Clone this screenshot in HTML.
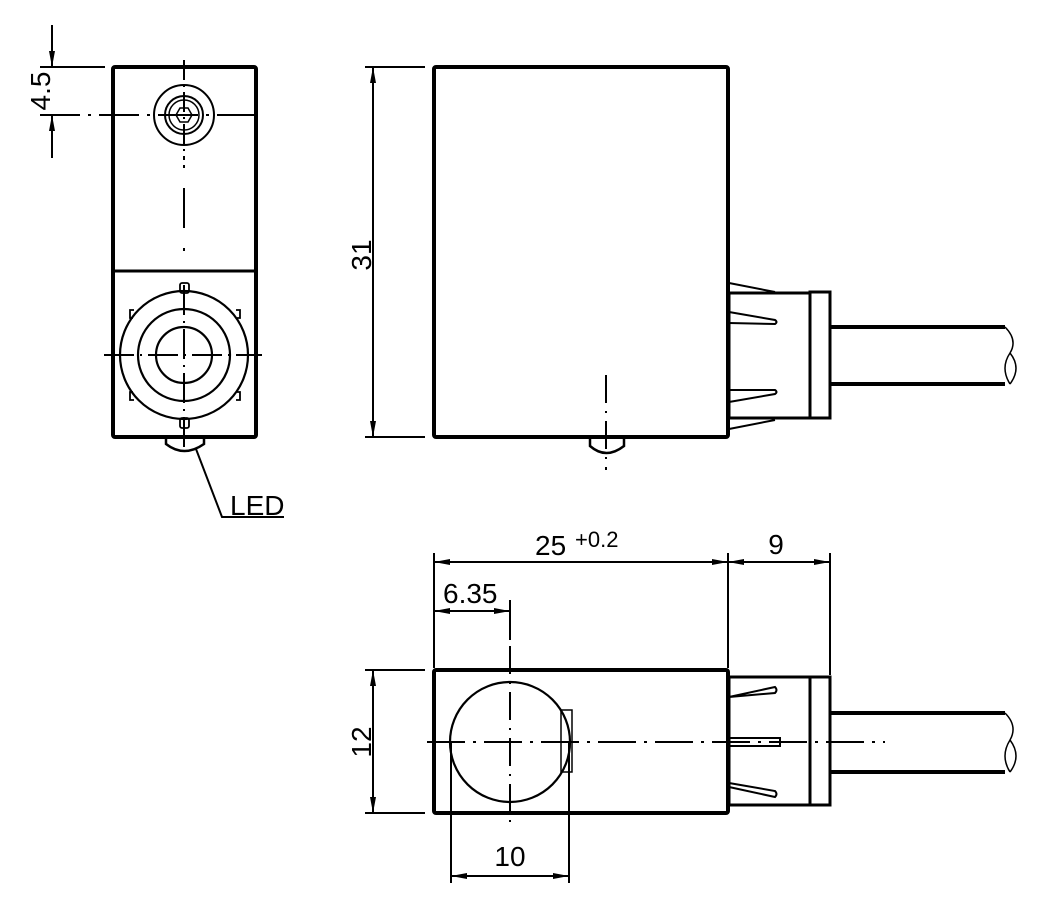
<!DOCTYPE html>
<html><head><style>html,body{margin:0;padding:0;background:#fff}svg{display:block}</style></head>
<body>
<svg width="1039" height="909" viewBox="0 0 1039 909" xmlns="http://www.w3.org/2000/svg" font-family="Liberation Sans, sans-serif">
<defs>
<marker id="a" viewBox="0 0 16 6" refX="16" refY="3" markerWidth="16" markerHeight="6" markerUnits="userSpaceOnUse" orient="auto"><path d="M0,0L16,3L0,6z" fill="#000"/></marker>
<marker id="b" viewBox="0 0 16 6" refX="0" refY="3" markerWidth="16" markerHeight="6" markerUnits="userSpaceOnUse" orient="auto"><path d="M16,0L0,3L16,6z" fill="#000"/></marker>
</defs>
<g fill="none" stroke="#000">
<rect x="113" y="67" width="143" height="370" stroke-width="4" rx="2"/>
<line x1="113" y1="271" x2="256" y2="271" stroke-width="3"/>
<circle cx="184" cy="115" r="30" stroke-width="2"/>
<circle cx="184" cy="115" r="19" stroke-width="2"/>
<circle cx="184" cy="115" r="15" stroke-width="1.5"/>
<path d="M176,115 L180,108 L188,108 L192,115 L188,122 L180,122 Z" stroke-width="1.5"/>
<g stroke-width="2">
<line x1="184" y1="60" x2="184" y2="160" stroke-dasharray="20,5,2,5"/>
<line x1="184" y1="165" x2="184" y2="268" stroke-dasharray="3,20,40,20"/>
<line x1="40" y1="115" x2="265" y2="115" stroke-dasharray="40,8,3,8"/>
<line x1="104" y1="355" x2="262" y2="355" stroke-dasharray="30,6,2,6"/>
<line x1="184" y1="285" x2="184" y2="450" stroke-dasharray="30,6,2,6"/>
</g>
<circle cx="184" cy="355" r="64" stroke-width="2.2"/>
<circle cx="184" cy="355" r="46" stroke-width="2.2"/>
<circle cx="184" cy="355" r="28" stroke-width="2.2"/>
<g stroke-width="1.8">
<rect x="180" y="283" width="9" height="10" rx="2"/>
<rect x="180" y="418" width="9" height="10" rx="2"/>
<path d="M134,310 L130,310 L130,318 L133,318"/>
<path d="M236,310 L240,310 L240,318 L237,318"/>
<path d="M133,392 L130,392 L130,400 L134,400"/>
<path d="M237,392 L240,392 L240,400 L236,400"/>
</g>
<path d="M166,437 L166,444 Q184,458 204,444 L204,437" stroke-width="2.5"/>
<polyline points="196,449 222,517 284,517" stroke-width="2"/>
<g stroke-width="2">
<line x1="52" y1="25" x2="52" y2="67" marker-end="url(#a)"/>
<line x1="52" y1="158" x2="52" y2="115" marker-end="url(#a)"/>
<line x1="40" y1="67" x2="105" y2="67"/>
</g>
<rect x="434" y="67" width="294" height="370" stroke-width="4" rx="2"/>
<g stroke-width="2">
<line x1="373" y1="67" x2="373" y2="437" marker-start="url(#b)" marker-end="url(#a)"/>
<line x1="365" y1="67" x2="425" y2="67"/>
<line x1="365" y1="437" x2="425" y2="437"/>
<line x1="606" y1="375" x2="606" y2="470" stroke-dasharray="28,8,2,8"/>
</g>
<path d="M590,437 L590,446 Q606,460 624,446 L624,437" stroke-width="2.5"/>
<rect x="729" y="293" width="81" height="125" stroke-width="3"/>
<rect x="810" y="292" width="20" height="126" stroke-width="3"/>
<g stroke-width="2">
<path d="M729,283 L775,292"/><path d="M729,312 L775,320 Q778,322 775,324 L729,323"/>
<path d="M729,402 L775,394 Q778,392 775,390 L729,390"/><path d="M729,429 L775,420"/>
</g>
<path d="M830,327 L1005,327 M830,384 L1005,384" stroke-width="4"/>
<path d="M1005,327 Q1018,340 1010,353 Q1000,368 1010,384 M1010,353 Q1022,368 1010,384" stroke-width="1.5"/>
<rect x="434" y="670" width="294" height="143" stroke-width="4" rx="2"/>
<circle cx="510" cy="742" r="60" stroke-width="2.2"/>
<rect x="561" y="710" width="11" height="62" stroke-width="1.5"/>
<g stroke-width="2">
<line x1="427" y1="742" x2="885" y2="742" stroke-dasharray="38,8,3,8"/>
<line x1="510" y1="600" x2="510" y2="825" stroke-dasharray="28,8,2,8"/>
</g>
<rect x="729" y="677" width="81" height="128" stroke-width="3"/>
<rect x="810" y="677" width="20" height="128" stroke-width="3"/>
<g stroke-width="2">
<path d="M729,697 L775,687 Q778,690 775,693 L729,697"/>
<path d="M729,787 L775,797 Q778,794 775,791 L729,783"/>
<path d="M729,738 L780,738 L780,746 L729,746"/>
</g>
<path d="M830,713 L1005,713 M830,772 L1005,772" stroke-width="4"/>
<path d="M1005,713 Q1018,726 1010,740 Q1000,756 1010,772 M1010,740 Q1022,756 1010,772" stroke-width="1.5"/>
<g stroke-width="2">
<line x1="373" y1="670" x2="373" y2="813" marker-start="url(#b)" marker-end="url(#a)"/>
<line x1="365" y1="670" x2="425" y2="670"/>
<line x1="365" y1="813" x2="425" y2="813"/>
<line x1="434" y1="553" x2="434" y2="668"/>
<line x1="728" y1="553" x2="728" y2="668"/>
<line x1="830" y1="553" x2="830" y2="675"/>
<line x1="510" y1="603" x2="510" y2="640"/>
<line x1="434" y1="562" x2="728" y2="562" marker-start="url(#b)" marker-end="url(#a)"/>
<line x1="728" y1="562" x2="830" y2="562" marker-start="url(#b)" marker-end="url(#a)"/>
<line x1="434" y1="611" x2="510" y2="611" marker-start="url(#b)" marker-end="url(#a)"/>
<line x1="451" y1="742" x2="451" y2="883"/>
<line x1="569" y1="742" x2="569" y2="883"/>
<line x1="451" y1="876" x2="569" y2="876" marker-start="url(#b)" marker-end="url(#a)"/>
</g>
</g>
<g font-size="28" fill="#000">
<text x="230" y="515">LED</text>
<text transform="translate(50,91) rotate(-90)" text-anchor="middle">4.5</text>
<text transform="translate(371,255) rotate(-90)" text-anchor="middle">31</text>
<text transform="translate(371,742) rotate(-90)" text-anchor="middle">12</text>
<text x="535" y="555">25</text>
<text x="575" y="547" font-size="22">+0.2</text>
<text x="776" y="554" text-anchor="middle">9</text>
<text x="443" y="603">6.35</text>
<text x="510" y="866" text-anchor="middle">10</text>
</g>
</svg>
</body></html>
